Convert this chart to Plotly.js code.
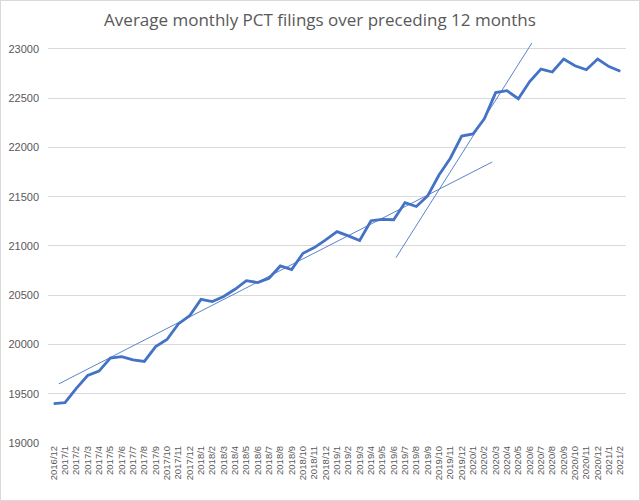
<!DOCTYPE html>
<html><head><meta charset="utf-8">
<script src="https://cdn.plot.ly/plotly-3.0.1.min.js"></script>
<style>html,body{margin:0;padding:0;background:#fff}#c{width:638px;height:499px;border:1px solid #d9d9d9}</style>
</head><body><div id="c"></div>
<script>
const months = ["2016/12","2017/1","2017/2","2017/3","2017/4","2017/5","2017/6","2017/7","2017/8","2017/9","2017/10","2017/11","2017/12",
"2018/1","2018/2","2018/3","2018/4","2018/5","2018/6","2018/7","2018/8","2018/9","2018/10","2018/11","2018/12",
"2019/1","2019/2","2019/3","2019/4","2019/5","2019/6","2019/7","2019/8","2019/9","2019/10","2019/11","2019/12",
"2020/1","2020/2","2020/3","2020/4","2020/5","2020/6","2020/7","2020/8","2020/9","2020/10","2020/11","2020/12",
"2021/1","2021/2"];
const filings = [19400,19410,19555,19685,19730,19862,19876,19843,19828,19978,20050,20208,20292,
20458,20436,20487,20560,20648,20628,20672,20797,20760,20926,20983,21061,
21145,21102,21055,21256,21270,21266,21440,21400,21507,21720,21890,22115,
22136,22290,22556,22575,22494,22668,22795,22765,22896,22828,22788,22896,
22820,22772];
// trend line endpoints (x in month-index units)
const trend1X = [0.45, 38.7];
const trend1Y = [19600, 21852];
const trend2X = [30.2, 42.2];
const trend2Y = [20880, 23060];
const yTicks = [19000,19500,20000,20500,21000,21500,22000,22500,23000];

const idx = months.map((m,i)=>i);
const traces = [
 {x: trend1X, y: trend1Y, mode:'lines', line:{color:'#5B83CC', width:1}, hoverinfo:'skip'},
 {x: trend2X, y: trend2Y, mode:'lines', line:{color:'#5B83CC', width:1}, hoverinfo:'skip'},
 {x: idx, y: filings, mode:'lines', line:{color:'#4472C4', width:2.8}}
];
const layout = {
 width:638, height:499, showlegend:false,
 paper_bgcolor:'#fff', plot_bgcolor:'#fff',
 margin:{l:47, r:13, t:38.15, b:57},
 title:{text:'Average monthly PCT filings over preceding 12 months', x:0.5, xanchor:'center', y:0.962, yanchor:'middle',
   font:{family:'Open Sans', size:17, color:'#595959'}},
 xaxis:{type:'linear', range:[-0.5, 50.5], tickmode:'array', tickvals:idx, ticktext:months, tickangle:-90,
   tickfont:{family:'Liberation Sans', size:9.5, color:'#595959'}, showgrid:false, zeroline:false,
   showline:false, ticks:'', ticklen:0},
 yaxis:{range:[19000,23100], tickmode:'array', tickvals:yTicks, ticktext:yTicks.map(String),
   tickfont:{family:'Liberation Sans', size:11, color:'#595959'}, gridcolor:'#d9d9d9', gridwidth:1,
   zeroline:false, showline:false, ticks:'', ticklabelstandoff:8}
};
Plotly.newPlot('c', traces, layout, {displayModeBar:false, staticPlot:true});
</script></body></html>
